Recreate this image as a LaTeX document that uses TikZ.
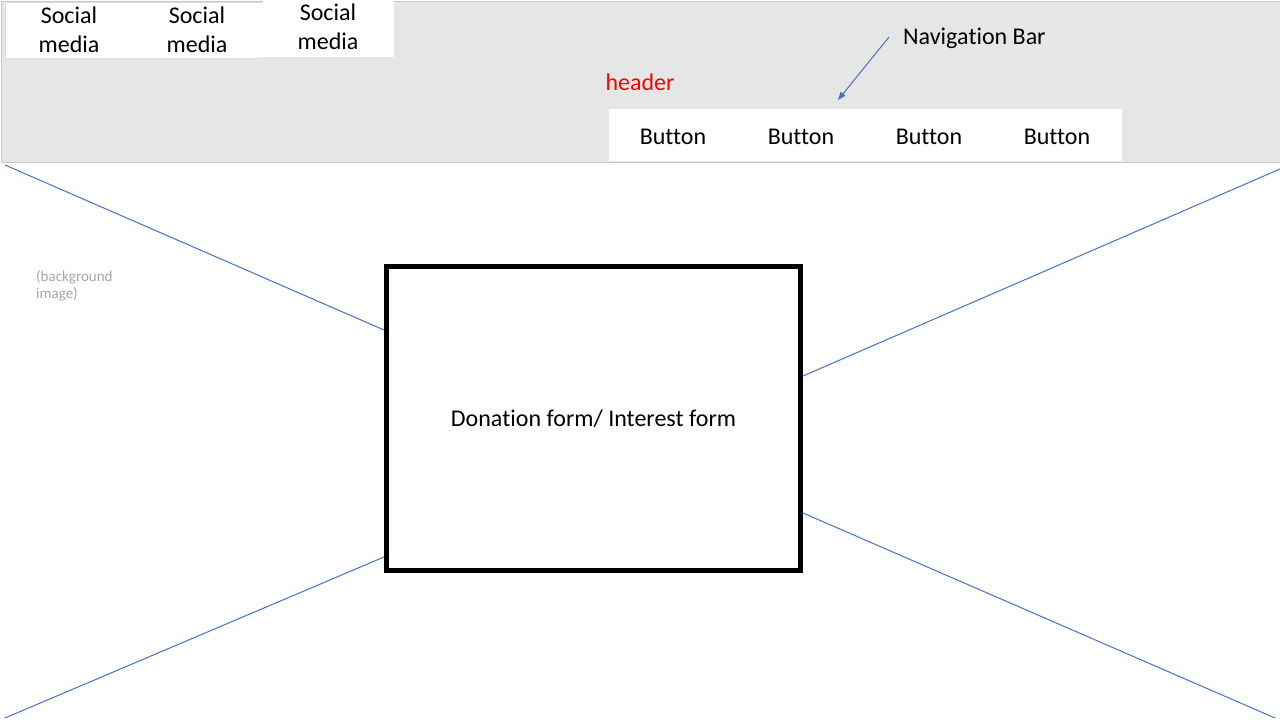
\documentclass[tikz,border=0pt]{standalone}
\usepackage{fontspec}
\setmainfont{Carlito}[Ligatures={NoCommon,NoRare,NoDiscretionary}]
\usetikzlibrary{arrows.meta}
\newcommand{\nolig}{\kern0pt }
\definecolor{hdrgray}{HTML}{E6E6E6}
\definecolor{hdrline}{HTML}{C8C8C8}
\definecolor{xblue}{HTML}{4472C4}
\definecolor{bgtext}{HTML}{A6A6A6}
\tikzset{
  big/.style={font=\fontsize{24}{29}\selectfont, inner sep=0pt, align=center},
  socialbox/.style={fill=white, draw=#1, line width=0.8pt, anchor=north west, inner sep=0pt},
  xline/.style={draw=xblue, line width=1pt},
}
\begin{document}
\begin{tikzpicture}[x=1pt,y=-1pt]
\useasboundingbox (0,0) rectangle (1280,720);
\fill[white] (0,0) rectangle (1280,720);
% header
\node[fill=hdrgray, draw=hdrline, line width=1pt, anchor=north west, minimum width=1279, minimum height=161, inner sep=0pt] (hdr) at (0.5,0.5) {};
% social media boxes
\node[socialbox=hdrline!60, minimum width=258, minimum height=56] (sm12) at (4.5,1.5) {};
\node[socialbox=white, minimum width=130, minimum height=56] (sm3) at (263,0) {};
\node[big] (s1) at (69,30) {Social\\media};
\node[big] (s2) at (197,30) {Social\\media};
\node[big] (s3) at (328,27) {Social\\media};
% nav bar
\node[fill=white, anchor=north west, minimum width=513, minimum height=52, inner sep=0pt] (nav) at (609,109) {};
\node[big] (b1) at (673,137) {Button};
\node[big] (b2) at (801,137) {Button};
\node[big] (b3) at (929,137) {Button};
\node[big] (b4) at (1057,137) {Button};
\node[big, text=red] (hlabel) at (640,82) {header};
\node[big, anchor=west] (navlabel) at (903,38) {Naviga\nolig tion Bar};
\coordinate (arrs) at (889,37);
\coordinate (arre) at (838,100);
\draw[xline, -{Triangle[length=8pt,width=6pt]}] (arrs) -- (arre);
% background image label
\node[font=\fontsize{15}{17}\selectfont, text=bgtext, align=left, anchor=north west, inner sep=0pt] (bglabel) at (36,270) {(background\\image)};
% form
\node[draw=black, line width=5pt, minimum width=414, minimum height=304, inner sep=0pt, font=\fontsize{24}{29}\selectfont] (form) at (593.5,418.5) {Dona\nolig tion form/ Interest form};
% X lines
\coordinate (tl) at (5,165);
\coordinate (tr) at (1280,169);
\coordinate (bl) at (5,718);
\coordinate (br) at (1275,718);
\coordinate (ftl) at (384,330);
\coordinate (ftr) at (803,376);
\coordinate (fbl) at (384,557);
\coordinate (fbr) at (803,513);
\draw[xline] (tl) -- (ftl);
\draw[xline] (tr) -- (ftr);
\draw[xline] (bl) -- (fbl);
\draw[xline] (br) -- (fbr);
\end{tikzpicture}
\end{document}
